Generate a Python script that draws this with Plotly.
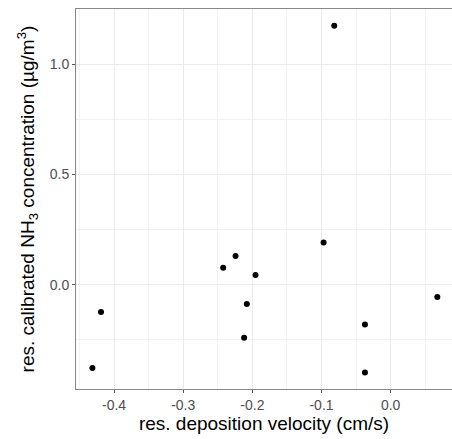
import plotly.graph_objects as go

dep_velocity = [-0.0816, -0.0970, -0.2243, -0.2422, -0.1954, 0.0675, -0.2080, -0.4188, -0.0372, -0.2119, -0.4313, -0.0372]
nh3_conc = [1.175, 0.192, 0.130, 0.077, 0.044, -0.056, -0.0876, -0.124, -0.180, -0.240, -0.378, -0.398]

x_ticks = [-0.4, -0.3, -0.2, -0.1, 0.0]
x_labels = ["-0.4", "-0.3", "-0.2", "-0.1", "0.0"]
y_ticks = [0.0, 0.5, 1.0]
y_labels = ["0.0", "0.5", "1.0"]

fig = go.Figure()
fig.add_trace(go.Scatter(
    x=dep_velocity, y=nh3_conc, mode="markers",
    marker=dict(color="black", size=6, line=dict(width=0)),
    showlegend=False, hoverinfo="skip",
))

font = "Liberation Sans, Arial, sans-serif"
fig.update_layout(
    width=452, height=439,
    margin=dict(l=76, r=0, t=9, b=50, autoexpand=False),
    paper_bgcolor="white", plot_bgcolor="white",
    font=dict(family=font, color="#4D4D4D"),
)
fig.update_xaxes(
    range=[-0.455, 0.0887], automargin=False,
    tickvals=x_ticks, ticktext=x_labels,
    tickfont=dict(size=14, color="#4D4D4D"),
    ticks="outside", ticklen=3, tickcolor="#555555", tickwidth=1,
    showgrid=True, gridcolor="#EBEBEB", gridwidth=1.2,
    minor=dict(dtick=0.05, tick0=0, showgrid=True, gridcolor="#F2F2F2", gridwidth=0.6, ticks=""),
    showline=True, linecolor="#888888", linewidth=1, mirror=True,
    zeroline=False,
    title=dict(text="res. deposition velocity (cm/s)", font=dict(size=19, color="black"), standoff=3),
)
fig.update_yaxes(
    range=[-0.473, 1.251], automargin=False,
    tickvals=y_ticks, ticktext=y_labels,
    tickfont=dict(size=14, color="#4D4D4D"),
    ticks="outside", ticklen=3, tickcolor="#555555", tickwidth=1,
    showgrid=True, gridcolor="#EBEBEB", gridwidth=1.2,
    minor=dict(dtick=0.25, tick0=0, showgrid=True, gridcolor="#F2F2F2", gridwidth=0.6, ticks=""),
    showline=True, linecolor="#888888", linewidth=1, mirror=False,
    zeroline=False,
    title=dict(text="res. calibrated NH<sub>3</sub> concentration (µg/m<sup>3</sup>)", font=dict(size=19, color="black"), standoff=10),
)

fig.write_html(
    "out.html",
    config={"displayModeBar": False},
    post_script="document.body.style.margin='0';document.body.style.overflow='hidden';",
)
